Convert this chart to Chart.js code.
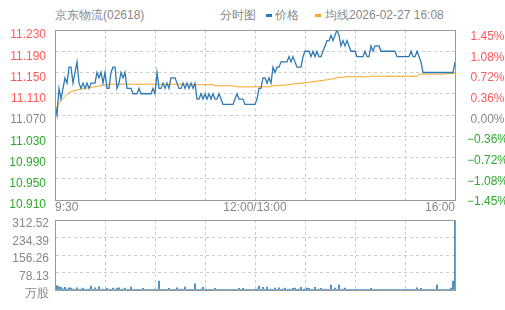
<!DOCTYPE html>
<html>
<head>
<meta charset="utf-8">
<script src="https://cdn.jsdelivr.net/npm/chart.js@4"></script>
<style>
body { margin: 0; width: 505px; height: 310px; background: #fff; position: relative; overflow: hidden; font-family: "Liberation Sans", Arial, sans-serif; }
.t { position: absolute; top: 8px; font-size: 12px; color: #888; white-space: nowrap; line-height: 14px; }
.dash { position: absolute; top: 14px; width: 6px; height: 3px; }
#c1 { position: absolute; left: 0; top: 0; }
#c2 { position: absolute; left: 0; top: 213px; }
</style>
</head>
<body>
<div class="t" style="left:55px">京东物流(02618)</div>
<div class="t" style="left:220px">分时图</div>
<div class="dash" style="left:266px;background:#2f7ab4"></div>
<div class="t" style="left:275px">价格</div>
<div class="dash" style="left:315px;background:#f5a623"></div>
<div class="t" style="left:325px">均线2026-02-27 16:08</div>
<canvas id="c1" width="505" height="215"></canvas>
<canvas id="c2" width="505" height="97"></canvas>
<script>
var prevClose = 11.07
var timeLabels = ['9:30', '12:00/13:00', '16:00']
var timeTicks = [0, 100, 200]
var xGrid = [0, 25, 50, 75, 100, 125, 150, 175, 200]
var priceTicks = [10.91, 10.95, 10.99, 11.03, 11.07, 11.11, 11.15, 11.19, 11.23]
var volTicks = [0, 78.13, 156.26, 234.39, 312.52]

// price every slot (2px in the picture)
var price = [
  11.09, 11.07, 11.12, 11.10, 11.12, 11.14, 11.13, 11.16, 11.16, 11.13,
  11.15, 11.17, 11.13, 11.12, 11.13, 11.12, 11.13, 11.12, 11.13, 11.13,
  11.13, 11.15, 11.14, 11.15, 11.13, 11.15, 11.12, 11.12, 11.15, 11.16,
  11.16, 11.12, 11.13, 11.15, 11.14, 11.15, 11.12, 11.12, 11.12, 11.11,
  11.11, 11.11, 11.12, 11.11, 11.11, 11.11, 11.11, 11.11, 11.11, 11.12,
  11.11, 11.15, 11.12, 11.12, 11.13, 11.12, 11.13, 11.12, 11.14, 11.14,
  11.14, 11.13, 11.12, 11.12, 11.13, 11.12, 11.13, 11.12, 11.13, 11.12,
  11.13, 11.10, 11.10, 11.11, 11.10, 11.11, 11.10, 11.11, 11.10, 11.11,
  11.10, 11.10, 11.11, 11.10, 11.09, 11.09, 11.09, 11.09, 11.09, 11.09,
  11.10, 11.11, 11.10, 11.10, 11.10, 11.09, 11.09, 11.09, 11.09, 11.09,
  11.09, 11.10, 11.12, 11.12, 11.14, 11.14, 11.13, 11.14, 11.13, 11.16,
  11.15, 11.16, 11.16, 11.17, 11.17, 11.17, 11.17, 11.18, 11.17, 11.18,
  11.17, 11.16, 11.16, 11.16, 11.18, 11.19, 11.19, 11.19, 11.18, 11.19,
  11.18, 11.19, 11.18, 11.18, 11.19, 11.20, 11.21, 11.21, 11.22, 11.21,
  11.22, 11.23, 11.22, 11.20, 11.21, 11.20, 11.21, 11.20, 11.19, 11.19,
  11.19, 11.18, 11.18, 11.18, 11.18, 11.19, 11.18, 11.18, 11.20, 11.19,
  11.20, 11.20, 11.20, 11.19, 11.19, 11.19, 11.19, 11.19, 11.19, 11.19,
  11.19, 11.18, 11.18, 11.18, 11.18, 11.18, 11.18, 11.18, 11.19, 11.18,
  11.18, 11.19, 11.18, 11.17, 11.15, 11.15, 11.15, 11.15, 11.15, 11.15,
  11.15, 11.15, 11.15, 11.15, 11.15, 11.15, 11.15, 11.15, 11.15, 11.15,
  11.17
]

var avgPrice = [
  11.080, 11.086, 11.092, 11.097, 11.101, 11.105, 11.109, 11.112, 11.114, 11.115,
  11.116, 11.117, 11.118, 11.119, 11.119, 11.120, 11.121, 11.121, 11.122, 11.123,
  11.123, 11.124, 11.125, 11.125, 11.126, 11.127, 11.127, 11.128, 11.128, 11.128,
  11.128, 11.128, 11.128, 11.128, 11.128, 11.128, 11.128, 11.128, 11.128, 11.128,
  11.128, 11.128, 11.128, 11.128, 11.128, 11.128, 11.128, 11.128, 11.128, 11.128,
  11.128, 11.128, 11.128, 11.128, 11.128, 11.128, 11.128, 11.128, 11.128, 11.128,
  11.128, 11.128, 11.128, 11.128, 11.128, 11.128, 11.128, 11.128, 11.128, 11.128,
  11.127, 11.127, 11.127, 11.127, 11.127, 11.127, 11.127, 11.127, 11.127, 11.127,
  11.125, 11.125, 11.125, 11.125, 11.125, 11.125, 11.125, 11.125, 11.125, 11.125,
  11.124, 11.123, 11.123, 11.123, 11.123, 11.123, 11.123, 11.123, 11.123, 11.123,
  11.123, 11.123, 11.123, 11.123, 11.123, 11.123, 11.123, 11.123, 11.124, 11.125,
  11.125, 11.125, 11.126, 11.126, 11.126, 11.126, 11.127, 11.127, 11.128, 11.128,
  11.129, 11.129, 11.130, 11.130, 11.130, 11.131, 11.131, 11.132, 11.132, 11.133,
  11.133, 11.134, 11.134, 11.135, 11.135, 11.136, 11.136, 11.137, 11.138, 11.138,
  11.139, 11.140, 11.141, 11.141, 11.141, 11.142, 11.142, 11.142, 11.142, 11.142,
  11.142, 11.142, 11.142, 11.142, 11.142, 11.142, 11.142, 11.142, 11.143, 11.143,
  11.143, 11.143, 11.143, 11.143, 11.143, 11.143, 11.143, 11.143, 11.143, 11.143,
  11.143, 11.143, 11.143, 11.143, 11.143, 11.143, 11.143, 11.143, 11.143, 11.143,
  11.143, 11.143, 11.147, 11.147, 11.147, 11.147, 11.147, 11.147, 11.147, 11.147,
  11.147, 11.147, 11.147, 11.147, 11.147, 11.147, 11.148, 11.148, 11.148, 11.148,
  11.150
]

// 万股
var volume = [
  6, 20, 14, 12, 5, 12, 4, 10, 9, 4,
  3, 10, 3, 4, 9, 3, 3, 4, 18, 3,
  10, 3, 14, 3, 4, 3, 8, 3, 3, 9,
  3, 9, 10, 3, 4, 9, 3, 3, 13, 3,
  3, 2, 3, 3, 8, 3, 2, 3, 3, 3,
  4, 3, 40, 3, 3, 2, 3, 8, 3, 3,
  3, 10, 3, 4, 3, 13, 3, 3, 2, 3,
  27, 3, 3, 4, 12, 3, 3, 2, 3, 3,
  8, 3, 2, 3, 3, 3, 2, 3, 3, 2,
  3, 3, 7, 3, 8, 3, 2, 3, 3, 2,
  3, 4, 18, 3, 12, 3, 13, 3, 4, 3,
  9, 3, 10, 3, 4, 9, 3, 4, 3, 8,
  9, 3, 4, 12, 3, 4, 9, 8, 3, 3,
  12, 3, 4, 8, 3, 4, 3, 3, 22, 3,
  9, 3, 22, 3, 4, 9, 3, 3, 2, 3,
  3, 2, 3, 3, 3, 2, 3, 3, 8, 3,
  3, 2, 3, 3, 2, 3, 3, 2, 3, 3,
  2, 3, 3, 2, 3, 3, 2, 3, 3, 3,
  3, 10, 3, 8, 3, 2, 3, 3, 2, 3,
  3, 22, 3, 2, 3, 3, 2, 3, 9, 40,
  312.52
]

var RED = '#ff5a5a', GREEN = '#2eaa2e', GRAY = '#888', GRID = '#cccccc', CLEAR = 'rgba(0,0,0,0)'

Chart.defaults.font.family = '"Liberation Sans", Arial, sans-serif'
Chart.defaults.font.size = 12
Chart.defaults.animation = false

var frame = {
    id: 'frame',
    afterDraw: function (chart) {
        var a = chart.chartArea, ctx = chart.ctx
        ctx.save()
        ctx.strokeStyle = '#999'
        ctx.lineWidth = 1
        ctx.strokeRect(a.left + 0.5, a.top + 0.5, a.right - a.left, a.bottom - a.top)
        ctx.restore()
    }
}

function sideColor(v) {
    if (Math.abs(v - prevClose) < 1e-6) return GRAY
    return v > prevClose ? RED : GREEN
}

function pts(arr) {
    return arr.map(function (v, i) { return { x: i, y: v } })
}

// right labels sit a few px lower than the grid, like the original
function shifted(min, max, topShift, bottomShift, h) {
    var r = (max - min) * h / (h - topShift + bottomShift)
    var mx = max + topShift / h * r
    return { min: mx - r, max: mx }
}

function setTicks(list) {
    return function (s) { s.ticks = list.map(function (v) { return { value: v } }) }
}

function fixW(w) {
    return function (s) { s.width = w; s.paddingTop = 0; s.paddingBottom = 0 }
}

var pMin = priceTicks[0], pMax = priceTicks[priceTicks.length - 1]
var rightLab = shifted(pMin, pMax, 6.5, 2, 170)

// dashed grid, no tick marks, border invisible (frame plugin draws the box)
function gridOpts() { return { color: GRID, tickLength: 0, offset: false } }
function dashBorder() { return { color: CLEAR, dash: [3, 3] } }

new Chart(document.getElementById('c1'), {
    type: 'line',
    data: {
        datasets: [
            { label: '价格', data: pts(price), borderColor: '#2f7ab4', borderWidth: 1.3, pointRadius: 0, yAxisID: 'y' },
            { label: '均线', data: pts(avgPrice), borderColor: '#f5a623', borderWidth: 1, pointRadius: 0, yAxisID: 'y' }
        ]
    },
    options: {
        responsive: false,
        layout: { padding: { top: 30 } },
        plugins: { legend: { display: false }, tooltip: { enabled: false } },
        scales: {
            x: {
                type: 'linear', min: 0, max: 200,
                afterBuildTicks: setTicks(xGrid),
                afterFit: function (s) { s.height = 15 },
                grid: gridOpts(),
                border: dashBorder(),
                ticks: {
                    autoSkip: false, maxRotation: 0, align: 'inner', padding: 0, color: GRAY,
                    callback: function (v) { var k = timeTicks.indexOf(v); return k < 0 ? '' : timeLabels[k] }
                }
            },
            y: {
                type: 'linear', position: 'left', min: pMin, max: pMax,
                afterBuildTicks: setTicks(priceTicks),
                afterFit: fixW(55),
                grid: gridOpts(),
                border: dashBorder(),
                ticks: {
                    padding: 9, labelOffset: 5, autoSkip: false,
                    color: function (c) { return sideColor(c.tick.value) },
                    callback: function (v) { return v.toFixed(3) }
                }
            },
            yr: {
                type: 'linear', position: 'right', min: rightLab.min, max: rightLab.max,
                afterBuildTicks: setTicks(priceTicks),
                afterFit: fixW(50),
                grid: { display: false },
                border: { color: CLEAR },
                ticks: {
                    padding: 4, crossAlign: 'center', autoSkip: false,
                    color: function (c) { return sideColor(c.tick.value) },
                    callback: function (v) {
                        var p = (v - prevClose) / prevClose * 100
                        return (p < -0.001 ? '\u2212' : '') + Math.abs(p).toFixed(2) + '%'
                    }
                }
            }
        }
    },
    plugins: [frame]
})

new Chart(document.getElementById('c2'), {
    type: 'bar',
    data: {
        datasets: [
            { label: '成交量', data: pts(volume), backgroundColor: '#2f7ab4', barThickness: 1, yAxisID: 'y' }
        ]
    },
    options: {
        responsive: false,
        layout: { padding: { top: 7, bottom: 20, right: 50 } },
        plugins: { legend: { display: false }, tooltip: { enabled: false } },
        scales: {
            x: {
                type: 'linear', min: 0, max: 200, offset: false,
                afterBuildTicks: setTicks(xGrid),
                afterFit: function (s) { s.height = 0 },
                grid: gridOpts(),
                border: dashBorder(),
                ticks: { display: false }
            },
            y: {
                type: 'linear', position: 'left', min: 0, max: volTicks[volTicks.length - 1],
                afterBuildTicks: setTicks(volTicks),
                afterFit: fixW(55),
                grid: gridOpts(),
                border: dashBorder(),
                ticks: {
                    padding: 6, labelOffset: 4, autoSkip: false, color: GRAY,
                    callback: function (v) { return v === 0 ? '万股' : v.toFixed(2) }
                }
            }
        }
    },
    plugins: [frame]
})
</script>
</body>
</html>
